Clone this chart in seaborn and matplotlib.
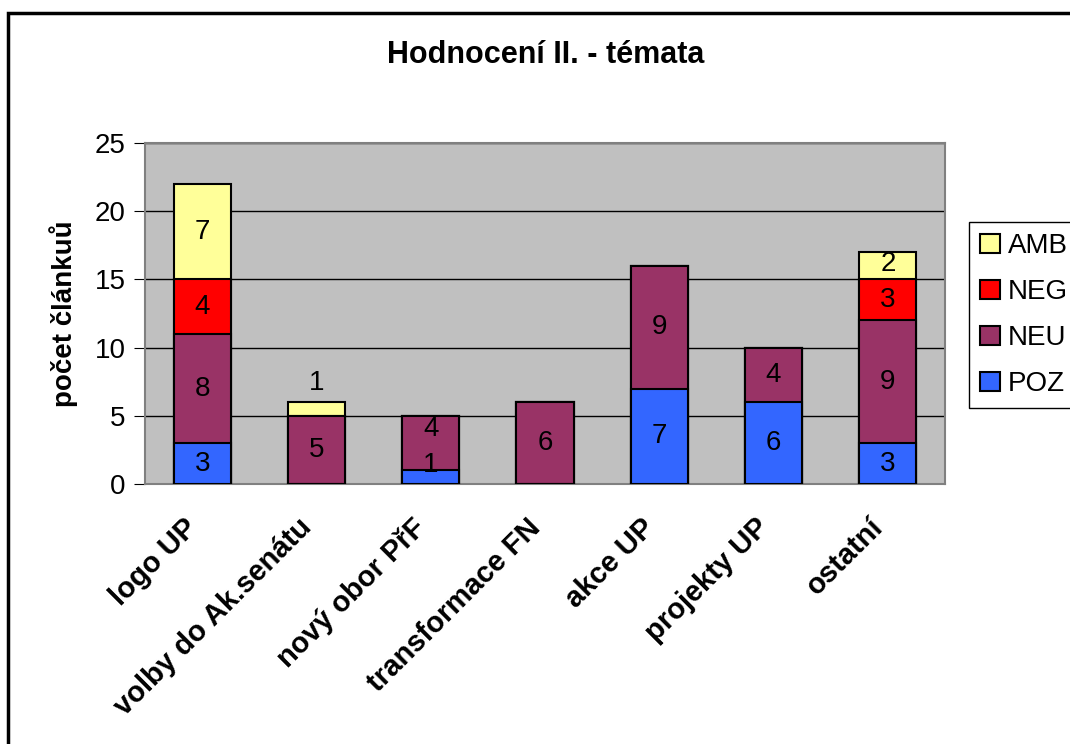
import numpy as np
import pandas as pd
import seaborn as sns
import matplotlib.pyplot as plt
import matplotlib.transforms as mtransforms
from matplotlib.patches import Patch, Rectangle

# data
categories = ['logo UP', 'volby do Ak.senátu', 'nový obor PřF', 'transformace FN',
              'akce UP', 'projekty UP', 'ostatní']
poz = [3, 0, 1, 0, 7, 6, 3]
neu = [8, 5, 4, 6, 9, 4, 9]
neg = [4, 0, 0, 0, 0, 0, 3]
amb = [7, 1, 0, 0, 0, 0, 2]

series = ['POZ', 'NEU', 'NEG', 'AMB']
colors = {'POZ': '#3366FF', 'NEU': '#993366', 'NEG': '#FF0000', 'AMB': '#FFFF99'}

df = pd.DataFrame({'kategorie': categories, 'POZ': poz, 'NEU': neu, 'NEG': neg, 'AMB': amb})
cum = df[series].cumsum(axis=1)

sns.set_style('white')
plt.rcParams['font.family'] = ['Liberation Sans', 'DejaVu Sans']
plt.rcParams['text.color'] = 'black'
plt.rcParams['axes.labelcolor'] = 'black'
plt.rcParams['xtick.color'] = 'black'
plt.rcParams['ytick.color'] = 'black'

fig = plt.figure(figsize=(10.7, 7.44), dpi=100)
ax = fig.add_axes([145 / 1070, 1 - 484 / 744, 800 / 1070, 341 / 744])
ax.set_facecolor('#C0C0C0')

# stacked bars: draw cumulative totals from the top layer down
for s in series[::-1]:
    sns.barplot(x=df['kategorie'], y=cum[s], color=colors[s], saturation=1,
                width=0.5, edgecolor='black', linewidth=1.5, errorbar=None,
                ax=ax, zorder=3)

# value labels (small segments get pushed up like Excel does)
for i in range(len(categories)):
    bottom = 0
    prev_y = None
    for j, s in enumerate(series):
        v = df[s][i]
        if v > 0:
            is_top = all(df[t][i] == 0 for t in series[j + 1:])
            if v < 1.5 and is_top:
                y = bottom + v + 1.4
            elif v < 1.5:
                y = bottom + 1.4
            else:
                y = bottom + v / 2
            if prev_y is not None and y - prev_y < 2.6:
                y = prev_y + 2.6
            ax.text(i, y, str(v), ha='center', va='center', fontsize=20, zorder=5)
            prev_y = y
        bottom += v

ax.set_ylim(0, 25)
ax.set_xlim(-0.5, len(categories) - 0.5)
ax.set_yticks(range(0, 26, 5))
ax.yaxis.grid(True, color='black', linewidth=1)
ax.set_axisbelow(True)
for sp in ax.spines.values():
    sp.set_color('#808080')
    sp.set_linewidth(1.5)
ax.tick_params(axis='y', left=True, length=8, color='black', labelsize=20, pad=6)
ax.tick_params(axis='x', bottom=False, pad=14)
ax.set_xticks(range(len(categories)))
ax.set_xticklabels(categories, rotation=45, ha='right', va='center',
                   rotation_mode='anchor', fontsize=21, fontweight='bold')
shift = mtransforms.ScaledTranslation(-9 / 100, -15 / 100, fig.dpi_scale_trans)
for lbl in ax.get_xticklabels():
    lbl.set_transform(lbl.get_transform() + shift)
ax.set_xlabel('')
ax.set_ylabel('počet článkuů', fontsize=20, fontweight='bold', labelpad=12)

fig.text(546 / 1070, 1 - 55 / 744, 'Hodnocení II. - témata', ha='center', va='center',
         fontsize=22, fontweight='bold')

handles = [Patch(facecolor=colors[s], edgecolor='black', linewidth=1.5, label=s)
           for s in series[::-1]]
leg = fig.legend(handles=handles, loc='upper left',
                 bbox_to_anchor=(969 / 1070, 1 - 222 / 744), borderaxespad=0,
                 fontsize=20, handlelength=0.7, handleheight=0.7,
                 handletextpad=0.3, labelspacing=0.72, fancybox=False,
                 framealpha=1, edgecolor='black')
leg.get_frame().set_linewidth(1)

# outer chart border
fig.patches.append(Rectangle((8 / 1070, -0.1), 1.2, 1 - 13 / 744 + 0.1, fill=False,
                             edgecolor='black', linewidth=2.5,
                             transform=fig.transFigure, figure=fig))

fig.savefig('out.png', dpi=100)
